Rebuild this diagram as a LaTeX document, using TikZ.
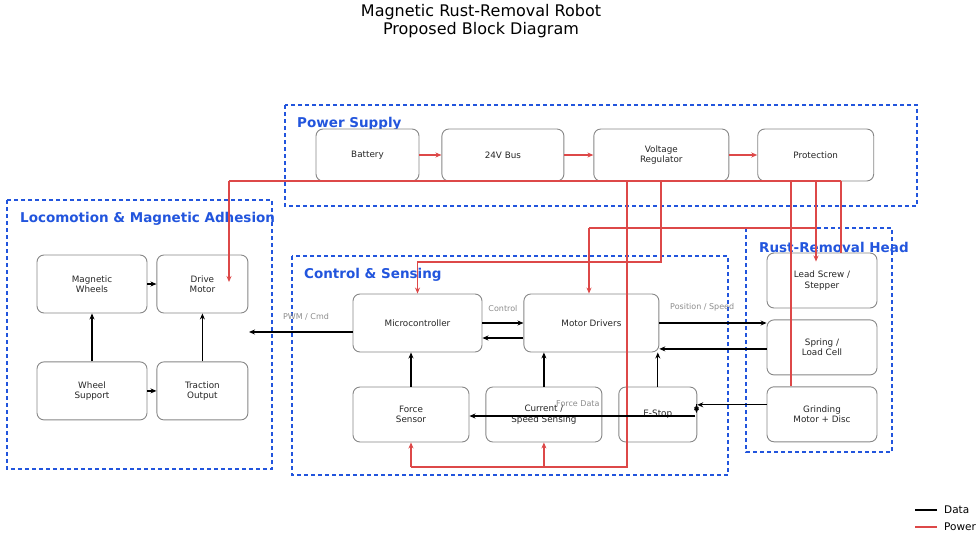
\documentclass[tikz,border=0pt]{standalone}
\usepackage{fontspec}
\setmainfont{DejaVu Sans}
\usetikzlibrary{arrows.meta, positioning}

\definecolor{pwrred}{RGB}{221,72,72}
\definecolor{grpblue}{RGB}{34,85,221}
\definecolor{boxgray}{RGB}{135,135,135}
\definecolor{lblgray}{RGB}{140,140,140}

\begin{document}
\begin{tikzpicture}[
  x=1pt, y=-1pt,
  blk/.style={draw=boxgray, rounded corners=7pt, fill=white, align=center, text=black!85,
    font=\fontsize{8.8}{10.5}\selectfont, inner sep=0pt, line width=0.9pt},
  grp/.style={draw=grpblue, dash pattern=on 4pt off 3pt, line width=1.2pt},
  grptitle/.style={text=grpblue, font=\fontsize{13.5}{16}\selectfont\bfseries, anchor=west, inner sep=0pt},
  data/.style={-{Stealth[length=6pt, width=5pt]}, line width=1.2pt},
  pwr/.style={draw=pwrred, line width=1.2pt},
  pwrarrow/.style={pwr, -{Stealth[length=6pt, width=5pt]}},
  lbl/.style={text=lblgray, font=\fontsize{8}{9}\selectfont, inner sep=0pt},
]
  \useasboundingbox (0,0) rectangle (977,535);

  % title
  \node[font=\fontsize{16}{18.5}\selectfont, align=center] (title) at (481,21)
    {Magnetic Rust-Removal Robot\\Proposed Block Diagram};

  % group frames
  \draw[grp] (285,105) rectangle (917,206);
  \draw[grp] (7,200) rectangle (272,469);
  \draw[grp] (292,256) rectangle (728,475);
  \draw[grp] (746,228) rectangle (892,452);
  \node[grptitle] (pstitle) at (297,124) {Power Supply};
  \node[grptitle] (lotitle) at (20,219) {Locomotion \& Magnetic Adhesion};
  \node[grptitle] (cstitle) at (304,275) {Control \& Sensing};
  \node[grptitle] (rhtitle) at (759,247) {Rust-Removal Head};

  % power supply
  \node[blk, minimum width=103pt, minimum height=52pt] (bat) at (367.5,155) {Battery};
  \node[blk, minimum width=122pt, minimum height=52pt, right=22pt of bat] (bus) {24V Bus};
  \node[blk, minimum width=135pt, minimum height=52pt, right=29pt of bus] (vreg) {Voltage\\Regulator};
  \node[blk, minimum width=116pt, minimum height=52pt, right=28pt of vreg] (prot) {Protection};

  % locomotion
  \node[blk, minimum width=110pt, minimum height=58pt] (wheels) at (92,284) {Magnetic\\Wheels};
  \node[blk, minimum width=91pt, minimum height=58pt, right=9pt of wheels] (drive) {Drive\\Motor};
  \node[blk, minimum width=110pt, minimum height=58pt, below=48pt of wheels] (support) {Wheel\\Support};
  \node[blk, minimum width=91pt, minimum height=58pt, right=9pt of support] (traction) {Traction\\Output};

  % control & sensing
  \node[blk, minimum width=129pt, minimum height=58pt] (mcu) at (417.5,323) {Microcontroller};
  \node[blk, minimum width=135pt, minimum height=58pt, right=41pt of mcu] (mdrv) {Motor Drivers};
  \node[blk, minimum width=116pt, minimum height=55pt] (force) at (411,414.5) {Force\\Sensor};
  \node[blk, minimum width=116pt, minimum height=55pt, right=16pt of force] (cur) {Current /\\Speed Sensing};
  \node[blk, minimum width=78pt, minimum height=55pt, right=16pt of cur] (estop) {E-Stop};

  % rust-removal head
  \node[blk, minimum width=110pt, minimum height=55pt] (lead) at (822,280.5) {Lead Screw /\\Stepper};
  \node[blk, minimum width=110pt, minimum height=55pt, below=11pt of lead] (spring) {Spring /\\Load Cell};
  \node[blk, minimum width=110pt, minimum height=55pt, below=11pt of spring] (grind) {Grinding\\Motor + Disc};

  % power wiring
  \draw[pwrarrow] (bat) -- (bus);
  \draw[pwrarrow] (bus) -- (vreg);
  \draw[pwrarrow] (vreg) -- (prot);
  \coordinate (busL) at (229,181);
  \coordinate (busR) at (841,181);
  \coordinate (vA) at (627,181);
  \coordinate (vB) at (661,181);
  \coordinate (pA) at (791,181);
  \coordinate (pB) at (816,181);
  \coordinate (senseJ) at (627,467);
  \coordinate (mcuJ) at (661,262);
  \coordinate (mdrvJ) at (589,228);
  \draw[pwr] (busL) -- (busR);
  \draw[pwrarrow] (busL) -- ([yshift=2pt]busL |- drive.center);
  \draw[pwr] (vA) -- (senseJ) -- (force.south |- senseJ);
  \draw[pwrarrow] (force.south |- senseJ) -- (force.south);
  \draw[pwrarrow] (cur.south |- senseJ) -- (cur.south);
  \draw[pwrarrow] (vB) -- (mcuJ) -| (mcu.north);
  \draw[pwr] (pA) -- (pA |- grind.north);
  \draw[pwrarrow] (pB) -- ([yshift=-9pt]lead.north -| pB);
  \draw[pwr] (pB |- mdrvJ) -- (mdrvJ);
  \draw[pwrarrow] (mdrvJ) -- (mdrvJ |- mdrv.north);
  \draw[pwr] (busR) -- (busR |- lead.north);

  % data links
  \draw[data] (wheels) -- (drive);
  \draw[data] (support) -- (traction);
  \draw[data] (support) -- (wheels);
  \draw[data] (traction) -- (drive);
  \coordinate (pwmEnd) at (249,332);
  \draw[data] (mcu.west |- pwmEnd) -- (pwmEnd) node[lbl, pos=0.45, above=11pt] (pwmlbl) {PWM / Cmd};
  \draw[data] (mcu) -- (mdrv) node[lbl, midway, above=11pt] (ctrllbl) {Control};
  \draw[data] ([yshift=-15pt]mdrv.west) -- ([yshift=-15pt]mcu.east);
  \draw[data] (force.north) -- (force.north |- mcu.south);
  \draw[data] (cur.north) -- (cur.north |- mdrv.south);
  \draw[data] (estop.north) -- (estop.north |- mdrv.south);
  \draw[data] (mdrv.east) -- (mdrv.east -| spring.west) node[lbl, pos=0.4, above=11pt] (poslbl) {Position / Speed};
  \draw[data] ([yshift=-1.5pt]spring.west) -- ([yshift=-1.5pt]spring.west -| mdrv.east);
  \draw[data] ([yshift=9.5pt]grind.west) -- ([yshift=9.5pt]grind.west -| estop.east);
  \coordinate (tickEnd) at (696.5,413);
  \draw[data] (tickEnd |- grind.north) ++(0,18) coordinate (tickStart);
  \draw[data] (tickStart) -- (tickEnd);
  \draw[data] ([xshift=-2pt, yshift=-1.5pt]estop.east) -- ([yshift=-1.5pt]force.east)
    node[lbl, pos=0.52, above=9pt] (fdlbl) {Force Data};

  % legend
  \node[anchor=west, inner sep=0pt, font=\fontsize{10.5}{12}\selectfont] (legdata) at (944,510) {Data};
  \node[anchor=west, inner sep=0pt, font=\fontsize{10.5}{12}\selectfont] (legpwr) at (944,527) {Power};
  \draw[line width=1.3pt] ([xshift=-7pt]legdata.west) -- ++(-22,0);
  \draw[pwr, line width=1.3pt] ([xshift=-7pt]legpwr.west) -- ++(-22,0);
\end{tikzpicture}
\end{document}
